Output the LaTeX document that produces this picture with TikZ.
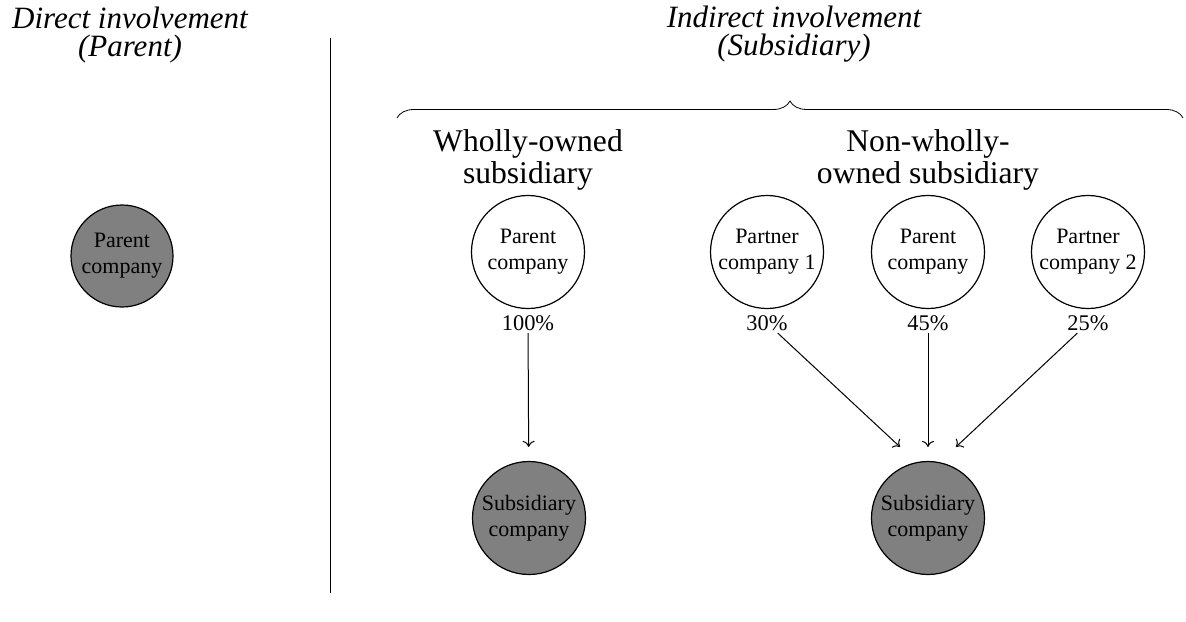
\documentclass[tikz,border=0pt]{standalone}
\usepackage{fontspec}
\setmainfont{Liberation Serif}
\usetikzlibrary{positioning,decorations.pathreplacing,calc,arrows.meta}

\begin{document}
\begin{tikzpicture}[x=0.5pt,y=-0.5pt,
  firm/.style={circle,draw,semithick,minimum size=56.5pt,inner sep=0pt,align=center,font=\fontsize{11}{13}\selectfont},
  held/.style={firm,fill=black!50},
  title/.style={align=center,font=\fontsize{15.5}{14}\selectfont\itshape},
  kind/.style={align=center,font=\fontsize{15.8}{16}\selectfont},
  share/.style={inner sep=1pt,font=\fontsize{11.2}{13}\selectfont},
  arrow/.style={-{To[width=6pt,length=3pt]},line width=0.5pt}]
\useasboundingbox (0,0) rectangle (1186,621);
% headings
\node[title] (direct) at (130,35) {Direct involvement\\(Parent)};
\node[title] (indirect) at (794,34) {Indirect involvement\\(Subsidiary)};
\draw (330,38) -- (330,593);
\draw[decorate,decoration={brace,amplitude=8.5pt}] (397,118) -- (1183,118);
\node[kind] (wholly) at (528,160) {Wholly-owned\\subsidiary};
\node[kind] (nonwholly) at (928,160) {Non-wholly-\\owned subsidiary};
% left side
\node[held,minimum size=51pt] (parent0) at (122,256) {Parent\\company};
% wholly-owned
\node[firm] (parent1) at (528,252) {Parent\\company};
\node[share,below=2pt of parent1] (p100) {100\%};
\node[held] (sub1) at (529,518) {Subsidiary\\company};
\draw[arrow,shorten >=7pt] (p100) -- (sub1);
% non-wholly-owned
\node[firm] (partner1) at (767,252) {Partner\\company 1};
\node[firm] (parent2) at (928,252) {Parent\\company};
\node[firm] (partner2) at (1088,252) {Partner\\company 2};
\node[share,below=2pt of partner1] (p30) {30\%};
\node[share,below=2pt of parent2] (p45) {45\%};
\node[share,below=2pt of partner2] (p25) {25\%};
\node[held] (sub2) at (928,518) {Subsidiary\\company};
\coordinate (in30) at ($(sub2.north)+(-28,-14)$);
\coordinate (in25) at ($(sub2.north)+(28,-14)$);
\draw[arrow] (p30) -- (in30);
\draw[arrow,shorten >=7pt] (p45) -- (sub2);
\draw[arrow] (p25) -- (in25);
\end{tikzpicture}
\end{document}
